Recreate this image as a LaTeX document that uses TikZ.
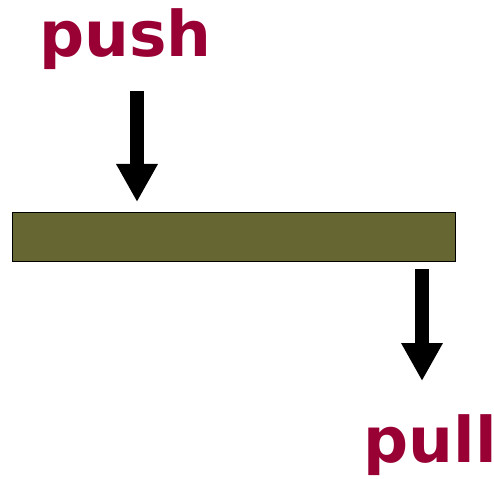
\documentclass[tikz,border=0pt]{standalone}
\usepackage{fontspec}
\setmainfont{DejaVu Sans}
\usetikzlibrary{arrows.meta}
\definecolor{wine}{HTML}{990033}
\definecolor{olive}{HTML}{666633}
\begin{document}
\begin{tikzpicture}[x=1pt,y=-1pt,
  lbl/.style={text=wine,font=\fontsize{63}{63}\selectfont\bfseries,anchor=base,inner sep=0pt},
  bigarrow/.style={line width=14pt,-{Triangle[width=39pt,length=38pt]}},
  bar/.style={draw=black,line width=1.5pt,fill=olive}]
\useasboundingbox (0,0) rectangle (494,478);
\node[bar,minimum width=443pt,minimum height=49pt,inner sep=0pt] (board) at (234,237) {};
\node[lbl] (push) at (125.5,57) {push};
\node[lbl] (pull) at (430,462) {pull};
\coordinate (a1) at (137,91);
\coordinate (a2) at (137,202);
\coordinate (b1) at (422,269);
\coordinate (b2) at (422,381);
\draw[bigarrow] (a1) -- (a2);
\draw[bigarrow] (b1) -- (b2);
\end{tikzpicture}
\end{document}
